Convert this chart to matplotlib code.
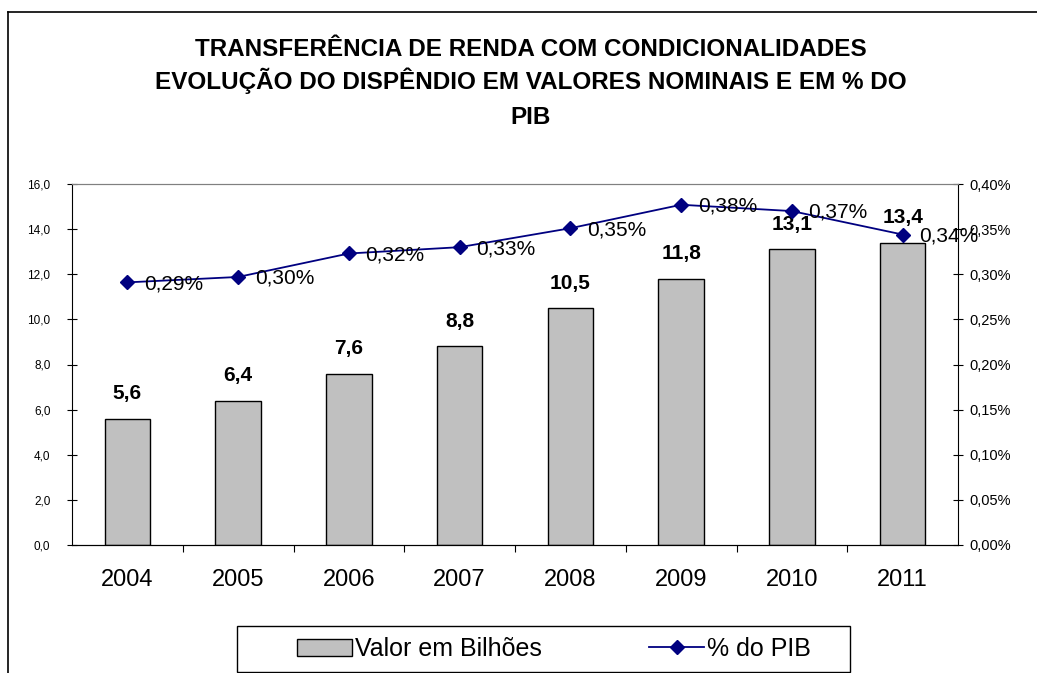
import matplotlib
matplotlib.use("Agg")
import matplotlib.pyplot as plt
from matplotlib.lines import Line2D
from matplotlib.patches import Patch, Rectangle
from matplotlib.ticker import FuncFormatter, FixedLocator
import numpy as np

plt.rcParams['font.family'] = ['Liberation Sans', 'DejaVu Sans']

anos = ["2004", "2005", "2006", "2007", "2008", "2009", "2010", "2011"]
valor_bilhoes = [5.6, 6.4, 7.6, 8.8, 10.5, 11.8, 13.1, 13.4]
pct_pib = [0.291, 0.297, 0.323, 0.330, 0.351, 0.377, 0.370, 0.344]
pct_labels = ["0,29%", "0,30%", "0,32%", "0,33%", "0,35%", "0,38%", "0,37%", "0,34%"]

title_lines = ["TRANSFERÊNCIA DE RENDA COM CONDICIONALIDADES",
               "EVOLUÇÃO DO DISPÊNDIO EM VALORES NOMINAIS E EM % DO",
               "PIB"]

fig = plt.figure(figsize=(10.37, 6.73), dpi=100)
W, H = 1037, 673
ax = fig.add_axes([72 / W, 1 - 545 / H, (958 - 72) / W, (545 - 184) / H])
x = np.arange(len(anos))

ax.bar(x, valor_bilhoes, width=0.41, color="#C0C0C0", edgecolor="black", linewidth=1.0, zorder=2)
ax.set_xlim(-0.5, len(anos) - 0.5)
ax.set_ylim(0, 16)
ax.set_yticks(np.arange(0, 16.1, 2))
ax.yaxis.set_major_formatter(FuncFormatter(lambda v, p: f"{v:.1f}".replace(".", ",")))
ax.tick_params(axis='y', direction='inout', length=7, width=0.8, labelsize=8.5, pad=12)
ax.set_xticks(x)
ax.set_xticklabels(anos, fontsize=17)
ax.tick_params(axis='x', which='major', length=0, pad=17)
ax.xaxis.set_minor_locator(FixedLocator(np.arange(0.5, len(anos) - 1, 1.0)))
ax.tick_params(axis='x', which='minor', direction='out', length=5, width=0.8)
ax.spines['top'].set_color("#808080")
ax.spines['right'].set_visible(False)

for xi, v in zip(x, valor_bilhoes):
    ax.annotate(f"{v:.1f}".replace(".", ","), (xi, v), xytext=(0, 11), textcoords="offset points",
                ha="center", va="bottom", fontsize=15, fontweight="bold", zorder=5)

ax2 = ax.twinx()
ax2.plot(x, [p / 100 for p in pct_pib], color="#000080", linewidth=1.3, marker="D",
         markersize=7, zorder=4)
ax2.set_ylim(0, 0.004)
ax2.set_yticks(np.arange(0, 0.00401, 0.0005))
ax2.yaxis.set_major_formatter(FuncFormatter(lambda v, p: f"{v * 100:.2f}%".replace(".", ",")))
ax2.tick_params(axis='y', direction='inout', length=7, width=0.8, labelsize=10.5, pad=5)
ax2.spines['top'].set_color("#808080")
ax2.spines['left'].set_visible(False)
for xi, p, lab in zip(x, pct_pib, pct_labels):
    ax2.annotate(lab, (xi, p / 100), xytext=(12, -1), textcoords="offset points",
                 ha="left", va="center", fontsize=15, zorder=6)

for line, yb in zip(title_lines, [56, 89, 124]):
    fig.text(531 / W, 1 - yb / H, line, ha="center", va="baseline", fontsize=17.5,
             fontweight="bold")

# outer chart border (top and left)
fig.add_artist(Line2D([8 / W, 1.0], [1 - 12 / H, 1 - 12 / H], transform=fig.transFigure,
                      color="black", linewidth=1.2))
fig.add_artist(Line2D([8 / W, 8 / W], [0, 1 - 12 / H], transform=fig.transFigure,
                      color="black", linewidth=1.2))

# legend frame
fig.add_artist(Rectangle((237 / W, 1 - 672 / H), (850 - 237) / W, (672 - 626) / H,
                         transform=fig.transFigure, facecolor="none", edgecolor="black",
                         linewidth=1.0))
handles = [Patch(facecolor="#C0C0C0", edgecolor="black", linewidth=1.0),
           Line2D([], [], color="#000080", linewidth=1.3, marker="D", markersize=7)]
leg = fig.legend(handles, ["Valor em Bilhões", "% do PIB"], loc="center",
                 bbox_to_anchor=(554 / W, 1 - 649 / H), ncol=2, fontsize=18, frameon=False,
                 borderaxespad=0, borderpad=0, handlelength=2.2, handletextpad=0.12,
                 columnspacing=4.3)

fig.savefig("out.png", dpi=100, facecolor="white")
